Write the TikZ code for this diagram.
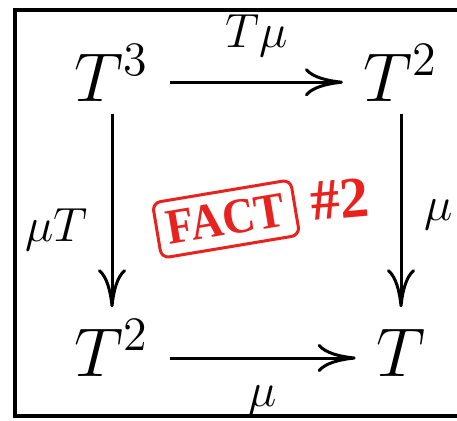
\documentclass[tikz,border=0pt]{standalone}
\usepackage{fontspec}
\usetikzlibrary{arrows.meta,positioning}
\newfontfamily\stampfont{Liberation Serif}
\definecolor{ink}{HTML}{000000}
\definecolor{stampred}{HTML}{E8231F}
\tikzset{
  obj/.style={font=\LARGE,anchor=base,inner xsep=5pt,inner ysep=3pt,text height=14pt,text depth=0pt},
  ar/.style={-{To[length=9.5pt,width=7pt]},draw=ink,line width=.75pt},
  lbl/.style={font=\LARGE,inner sep=0pt},
  stamp/.style={draw=stampred,line width=.75pt,rounded corners=2pt,fill=white,text=stampred,inner sep=0pt,
    minimum width=35pt,minimum height=14pt,font=\stampfont\bfseries\fontsize{12.5}{12.5}\selectfont},
  stampnum/.style={text=stampred,inner sep=0pt,font=\stampfont\bfseries\fontsize{14.5}{14.5}\selectfont},
}
\begin{document}
\begin{tikzpicture}[x=.25pt,y=-.25pt]
  \useasboundingbox (0,0) rectangle (457,420);
  \clip (0,0) rectangle (457,420);
  % ── frame, right side runs off the page ──
  \draw[ink,line width=1pt] (14.5,9.5) rectangle (480,416);

  % ── the square ──
  \node[obj] (t3)  at (112,101) {$T^3$};
  \node[obj] (t2a) at (401,101) {$T^2$};
  \node[obj] (t2b) at (112,376) {$T^2$};
  \node[obj] (t1)  at (401,376) {$T$};

  \draw[ar] ([yshift=4.7pt]t3.base east) -- node[lbl,above=6pt] (lTmu) {$\scriptstyle T\mu$} ([yshift=4.7pt]t2a.base west);
  \draw[ar] ([yshift=4.5pt]t2b.base east) -- node[lbl,below=6.5pt] (lmuB) {$\scriptstyle \mu$} ([yshift=4.5pt]t1.base west);
  \draw[ar] (t3) -- node[lbl,left=5.75pt,pos=.6] (lmuT) {$\scriptstyle \mu T$} (t2b);
  \draw[ar] (t2a) -- node[lbl,right=5.5pt,pos=.52] (lmuR) {$\scriptstyle \mu$} (t1);

  % ── the stamp ──
  \node[stamp,rotate=9.5] (fact) at (226,219) {\scalebox{.9}[1]{FACT}};
  \node[stampnum,rotate=5] (num) at (340,199) {\#2};
\end{tikzpicture}
\end{document}
